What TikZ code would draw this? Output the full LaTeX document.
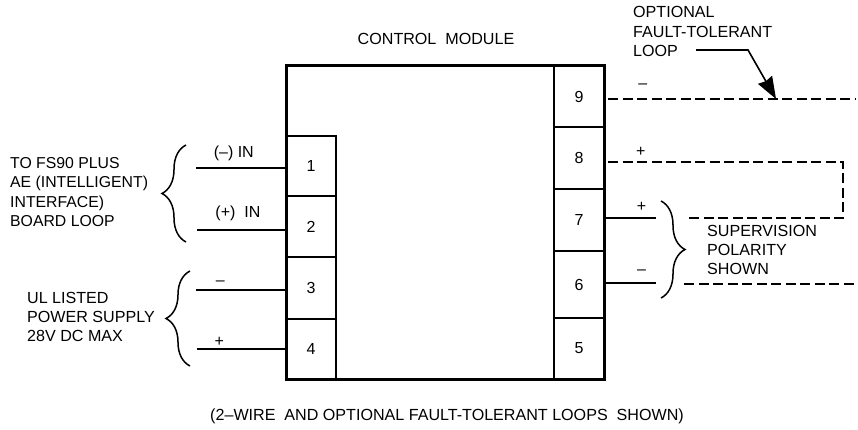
\documentclass[tikz,border=0pt]{standalone}
\usepackage{fontspec}
\setmainfont{Liberation Sans}
\usetikzlibrary{positioning, arrows.meta, decorations.pathreplacing}
\tikzstyle{terminal} = [rectangle, minimum width=50pt, text centered, draw=black, line width=1.6pt, outer sep=0pt, inner sep=0pt, font=\fontsize{16}{18}\selectfont]
\tikzstyle{module} = [rectangle, minimum width=318pt, minimum height=313pt, draw=black, line width=3pt, outer sep=0pt]
\tikzstyle{caption} = [inner sep=0pt, align=left, font=\fontsize{16.1}{19.4}\selectfont]
\tikzstyle{wire} = [line width=1.8pt]
\tikzstyle{loopwire} = [line width=1.8pt, dash pattern=on 10pt off 4.5pt]
\tikzstyle{curly} = [line width=1.5pt, decorate, decoration={brace, amplitude=24pt}]
\tikzstyle{leader} = [line width=1.6pt, -{Stealth[length=22pt, width=16pt, inset=1.5pt]}]
\tikzstyle{polarity} = [above, inner sep=2pt, font=\fontsize{16}{18}\selectfont]

\begin{document}
\begin{tikzpicture}[x=1pt, y=-1pt]
    \useasboundingbox (0,0) rectangle (858,430);

    \node (term1) [terminal, minimum height=60pt] at (311,166) {1};
    \node (term2) [terminal, minimum height=61pt, below=0pt of term1] {2};
    \node (term3) [terminal, minimum height=62pt, below=0pt of term2] {3};
    \node (term4) [terminal, minimum height=60pt, below=0pt of term3] {4};

    \node (term9) [terminal, minimum height=61pt] at (579,96.5) {9};
    \node (term8) [terminal, minimum height=62pt, below=0pt of term9] {8};
    \node (term7) [terminal, minimum height=62pt, below=0pt of term8] {7};
    \node (term6) [terminal, minimum height=67pt, below=0pt of term7] {6};
    \node (term5) [terminal, minimum height=61pt, below=0pt of term6] {5};

    \node (module) [module] at (445,222.5) {};

    \node (title) [caption] at (436,39) {CONTROL\ \ MODULE};
    \node (optional) [caption, anchor=west] at (633,31.5) {OPTIONAL\\FAULT-TOLERANT\\LOOP};
    \node (board) [caption, anchor=west, font=\fontsize{15.8}{19.4}\selectfont] at (10,192) {TO FS90 PLUS\\AE (INTELLIGENT)\\INTERFACE)\\BOARD LOOP};
    \node (supply) [caption, anchor=west] at (27,317) {UL LISTED\\POWER SUPPLY\\28V DC MAX};
    \node (supervision) [caption, anchor=west] at (707,250) {SUPERVISION\\POLARITY\\SHOWN};
    \node (note) [caption] at (447,416.5) {(2--WIRE\ \ AND OPTIONAL FAULT-TOLERANT LOOPS\ \ SHOWN)};

    \coordinate (in1) at (196,167.7);
    \coordinate (in2) at (197,230);
    \coordinate (in3) at (196,289.7);
    \coordinate (in4) at (197,349);
    \coordinate (out7) at (656,218);
    \coordinate (out6) at (656,282.7);
    \coordinate (loop9) at (608,99);
    \coordinate (end9) at (856,99);
    \coordinate (loop8) at (608,162);
    \coordinate (bend8) at (843,162);
    \coordinate (bend7) at (843,218);
    \coordinate (loop7) at (685,218);
    \coordinate (loop6) at (684,284);
    \coordinate (end6) at (858,284);
    \coordinate (from) at (696,50);
    \coordinate (knee) at (748,50);
    \coordinate (tip) at (776,99);

    \draw [wire] (in1) -- node[polarity, pos=.42, yshift=4pt]{(--) IN} (in1 -| module.west);
    \draw [wire] (in2) -- node[polarity, pos=.46, yshift=6pt]{(+)\ \ IN} (in2 -| module.west);
    \draw [wire] (in3) -- node[polarity, pos=.27, yshift=1pt]{--} (in3 -| module.west);
    \draw [wire] (in4) -- node[polarity, pos=.25]{+} (in4 -| module.west);
    \draw [wire] (out7 -| module.east) -- node[polarity, pos=.72, yshift=4pt]{+} (out7);
    \draw [wire] (out6 -| module.east) -- node[polarity, pos=.72, yshift=5pt]{--} (out6);

    \draw [loopwire] (loop9) -- node[polarity, pos=.14, yshift=8pt]{--} (end9);
    \draw [loopwire] (loop8) -- node[polarity, pos=.14, yshift=3pt]{+} (bend8) -- (bend7) -- (loop7);
    \draw [loopwire] (loop6) -- (end6);
    \draw [leader] (from) -- (knee) -- (tip);

    \draw [curly] (186,242) -- (186,145);
    \draw [curly] (190,366) -- (190,271);
    \draw [curly] (661,201) -- (661,298);
\end{tikzpicture}
\end{document}
